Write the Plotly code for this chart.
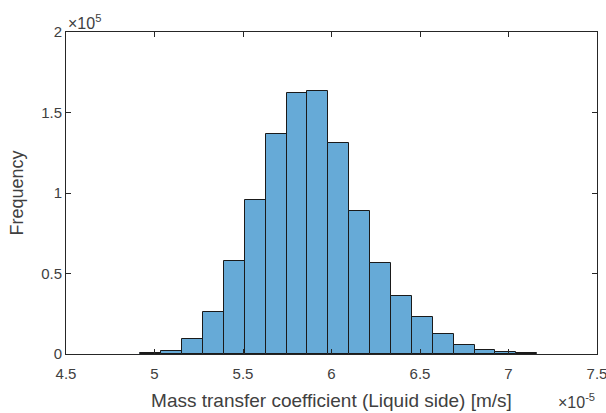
import plotly.graph_objects as go

# Bin left edges (units of 1e-5 m/s), bin width, and frequencies
bin_left_edges = [4.920, 5.038, 5.156, 5.274, 5.392, 5.510, 5.628, 5.746, 5.864, 5.982,
                  6.100, 6.218, 6.336, 6.454, 6.572, 6.690, 6.808, 6.926, 7.044]
bin_width = 0.118
counts = [600, 1700, 9300, 26300, 58000, 95700, 136600, 161900, 163300, 130900,
          89000, 56500, 36000, 22800, 12200, 5600, 2700, 1100, 600]

x_ticks = [4.5, 5, 5.5, 6, 6.5, 7, 7.5]
x_tick_labels = ["4.5", "5", "5.5", "6", "6.5", "7", "7.5"]
y_ticks = [0, 50000, 100000, 150000, 200000]
y_tick_labels = ["0", "0.5", "1", "1.5", "2"]

centers = [e + bin_width / 2 for e in bin_left_edges]

fig = go.Figure()
fig.add_trace(go.Bar(
    x=centers, y=counts, width=[bin_width] * len(counts),
    marker=dict(color="#66AAD7", line=dict(color="#1a1a1a", width=1)),
    showlegend=False,
))

font_family = "Liberation Sans, Arial, sans-serif"
axis_color = "#262626"
tick_color = "#404040"

fig.update_layout(
    width=606, height=413,
    margin=dict(l=66, r=9, t=32, b=59, autoexpand=False),
    paper_bgcolor="white", plot_bgcolor="white",
    font=dict(family=font_family, size=15, color=axis_color),
    bargap=0,
    xaxis=dict(
        range=[4.5, 7.5], tickvals=x_ticks, ticktext=x_tick_labels,
        ticks="inside", ticklen=5, tickcolor=axis_color, mirror="ticks",
        showline=True, linecolor=axis_color, linewidth=1, showgrid=False, zeroline=False,
        title=dict(text="Mass transfer coefficient (Liquid side) [m/s]",
                   font=dict(size=19, color=tick_color), standoff=12),
        tickfont=dict(size=15, color=tick_color), automargin=False, ticklabeloverflow="allow",
        ticklabelstandoff=6,
    ),
    yaxis=dict(
        range=[0, 200000], tickvals=y_ticks, ticktext=y_tick_labels,
        ticks="inside", ticklen=5, tickcolor=axis_color, mirror="ticks",
        showline=True, linecolor=axis_color, linewidth=1, showgrid=False, zeroline=False,
        title=dict(text="Frequency", font=dict(size=18, color=tick_color), standoff=12),
        tickfont=dict(size=15, color=tick_color), automargin=False, ticklabeloverflow="allow",
    ),
    annotations=[
        dict(text="×10<sup>5</sup>", xref="paper", yref="paper", x=0, y=1.0, yshift=-2,
             xanchor="left", yanchor="bottom", showarrow=False, font=dict(size=16, color=tick_color)),
        dict(text="×10<sup>-5</sup>", xref="paper", yref="paper", x=1.0, y=-0.108,
             xanchor="right", yanchor="top", showarrow=False, font=dict(size=16, color=tick_color)),
    ],
)

fig.write_html("out.html", config={"displayModeBar": False},
               post_script="document.body.style.margin='0';")
